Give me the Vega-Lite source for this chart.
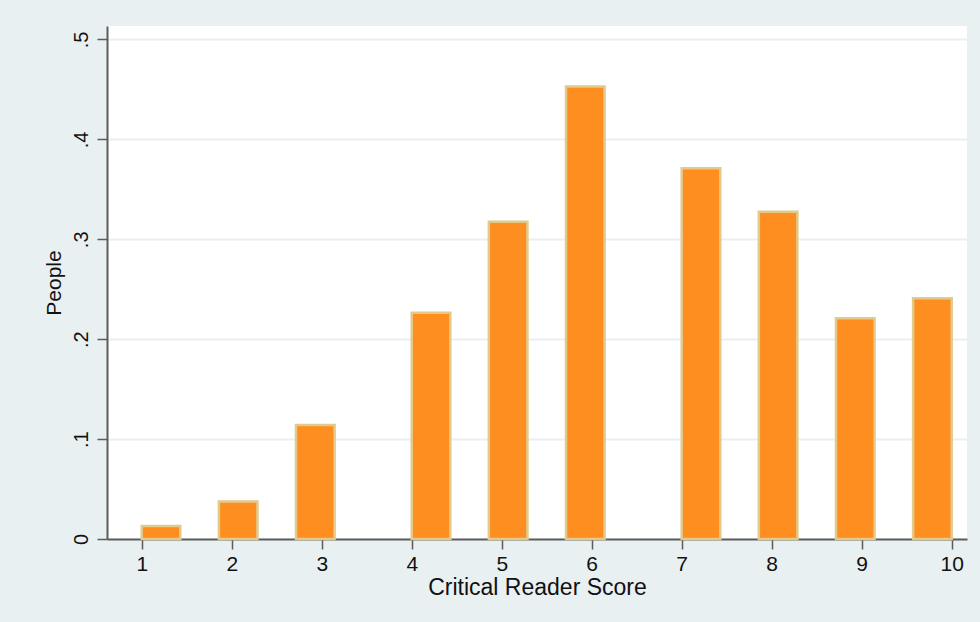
{
  "$schema": "https://vega.github.io/schema/vega-lite/v6.json",
  "width": 860,
  "height": 513,
  "autosize": {"type": "none"},
  "padding": {"left": 107, "top": 26, "right": 13, "bottom": 83},
  "background": "#e8f0f2",
  "view": {"fill": "white", "stroke": null},
  "config": {
    "font": "Liberation Sans",
    "axis": {
      "labelFont": "Liberation Sans",
      "titleFont": "Liberation Sans",
      "labelColor": "#111111",
      "titleColor": "#111111",
      "titleFontWeight": "normal",
      "domainColor": "#5c5c5c",
      "domainWidth": 2,
      "tickColor": "#5c5c5c",
      "tickWidth": 1.5,
      "tickSize": 10,
      "zindex": 1
    }
  },
  "data": {
    "values": [
      {"bin_start": 1.0, "bin_end": 1.4286, "density": 0.013},
      {"bin_start": 1.8571, "bin_end": 2.2857, "density": 0.0375},
      {"bin_start": 2.7143, "bin_end": 3.1429, "density": 0.114},
      {"bin_start": 4.0, "bin_end": 4.4286, "density": 0.2265},
      {"bin_start": 4.8571, "bin_end": 5.2857, "density": 0.3175},
      {"bin_start": 5.7143, "bin_end": 6.1429, "density": 0.453},
      {"bin_start": 7.0, "bin_end": 7.4286, "density": 0.371},
      {"bin_start": 7.8571, "bin_end": 8.2857, "density": 0.3275},
      {"bin_start": 8.7143, "bin_end": 9.1429, "density": 0.221},
      {"bin_start": 9.5714, "bin_end": 10.0, "density": 0.241}
    ]
  },
  "mark": {"type": "rect", "fill": "#fd8e1f", "stroke": "#e2c98c", "strokeWidth": 2.5},
  "encoding": {
    "x": {
      "field": "bin_start",
      "type": "quantitative",
      "scale": {"domain": [0.614, 10.17], "nice": false, "zero": false},
      "axis": {
        "title": "Critical Reader Score",
        "values": [1, 2, 3, 4, 5, 6, 7, 8, 9, 10],
        "format": "d",
        "grid": false,
        "labelFontSize": 21,
        "titleFontSize": 23,
        "labelPadding": 4,
        "titlePadding": 2,
        "labelFlush": false
      }
    },
    "x2": {"field": "bin_end"},
    "y": {
      "field": "density",
      "type": "quantitative",
      "scale": {"domain": [0, 0.5135], "nice": false},
      "axis": {
        "title": "People",
        "values": [0, 0.1, 0.2, 0.3, 0.4, 0.5],
        "labelExpr": "datum.value == 0 ? '0' : replace(format(datum.value, '.1f'), '0.', '.')",
        "labelAngle": -90,
        "labelAlign": "center",
        "labelBaseline": "bottom",
        "labelFontSize": 20,
        "titleFontSize": 21,
        "labelPadding": 6,
        "titlePadding": 7,
        "labelFlush": false,
        "grid": true,
        "gridColor": "#e8f0f2",
        "gridWidth": 2
      }
    },
    "y2": {"datum": 0}
  }
}
